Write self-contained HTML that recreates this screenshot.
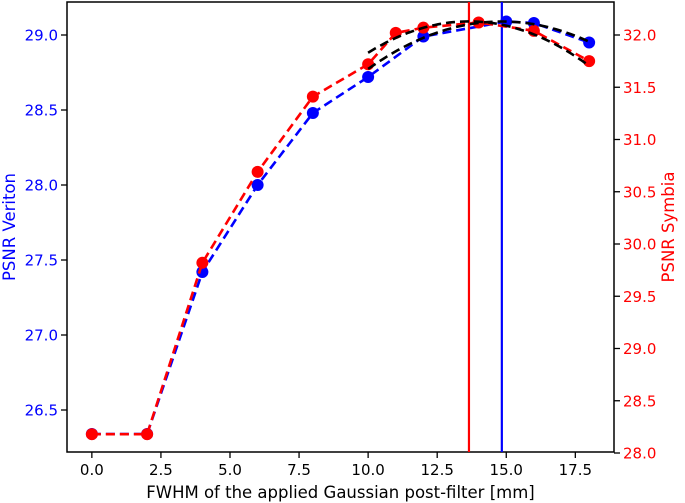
<!DOCTYPE html>
<html><head><meta charset="utf-8"><style>
body{margin:0;background:#fff}
svg{display:block;font-family:"DejaVu Sans","Liberation Sans",sans-serif}
</style></head><body>
<svg id="chart" width="685" height="503" viewBox="0 0 685 503"></svg>
<script>
const blueX = [0,2,4,6,8,10,12,15,16,18];
const blueY = [26.34,26.34,27.42,28.0,28.48,28.72,28.99,29.09,29.08,28.95];
const redX = [0,2,4,6,8,10,11,12,14,16,18];
const redY = [28.18,28.18,29.82,30.69,31.41,31.72,32.02,32.07,32.12,32.04,31.75];
const blueFit = [14.84, 29.09, -0.0135];
const redFit = [13.65, 32.13, -0.0225];
const fitRange = [10, 18];
const xTicks = [0,2.5,5,7.5,10,12.5,15,17.5];
const leftTicks = [26.5,27.0,27.5,28.0,28.5,29.0];
const rightTicks = [28.0,28.5,29.0,29.5,30.0,30.5,31.0,31.5,32.0];

const L=67,R=614,T=2,B=452;
const X=v=>L+(v+0.9)/19.8*(R-L);
const YL=v=>35+(29.0-v)*150;
const YR=v=>35+(32.0-v)*104.5;
const svg=document.getElementById('chart');
const NS='http://www.w3.org/2000/svg';
function mk(tag,attrs,parent){const e=document.createElementNS(NS,tag);for(const k in attrs)e.setAttribute(k,attrs[k]);(parent||svg).appendChild(e);return e;}

let box=mk('rect',{x:L,y:T,width:R-L,height:B-T,fill:'none',stroke:'#000','stroke-width':1.5});



xTicks.forEach(t=>{const x=X(t);
 mk('line',{x1:x,x2:x,y1:B,y2:B+6,stroke:'#000','stroke-width':1.3});
 const tx=mk('text',{x:x,y:B+23,'text-anchor':'middle','font-size':15,fill:'#000'});tx.textContent=t.toFixed(1);
 
 
});
leftTicks.forEach(t=>{const y=YL(t);
 mk('line',{x1:L-6,x2:L,y1:y,y2:y,stroke:'#000','stroke-width':1.3});
 const tx=mk('text',{x:L-9,y:y+5.5,'text-anchor':'end','font-size':15,fill:'#0000ff'});tx.textContent=t.toFixed(1);
 
 
});
rightTicks.forEach(t=>{const y=YR(t);
 mk('line',{x1:R,x2:R+6,y1:y,y2:y,stroke:'#000','stroke-width':1.3});
 const tx=mk('text',{x:R+9,y:y+5.5,'font-size':15,fill:'#ff0000'});tx.textContent=t.toFixed(1);
 
 
});

let xl=mk('text',{x:(L+R)/2,y:498,'text-anchor':'middle','font-size':16.5});xl.textContent='FWHM of the applied Gaussian post-filter [mm]';


let yl=mk('text',{x:0,y:0,'text-anchor':'middle','font-size':16.5,fill:'#0000ff',transform:'translate(15,227) rotate(-90)'});yl.textContent='PSNR Veriton';


let yr=mk('text',{x:0,y:0,'text-anchor':'middle','font-size':16.5,fill:'#ff0000',transform:'translate(674,227) rotate(-90)'});yr.textContent='PSNR Symbia';



function fitPath(f,Y){let d='';for(let i=0;i<=60;i++){const x=fitRange[0]+(fitRange[1]-fitRange[0])*i/60;const y=f[1]+f[2]*(x-f[0])*(x-f[0]);d+=(i?'L':'M')+X(x).toFixed(1)+','+Y(y).toFixed(1);}return d;}
function series(xa,ya,Y,col,name){
 const p=mk('polyline',{points:xa.map((x,i)=>X(x)+','+Y(ya[i])).join(' '),fill:'none',stroke:col,'stroke-width':2.6,'stroke-dasharray':'9,5'});
 
 
 xa.forEach((x,i)=>{const c=mk('circle',{cx:X(x),cy:Y(ya[i]),r:6,fill:col});
  
  });
}
series(blueX,blueY,YL,'#0000ff','veriton');
let vb=mk('line',{x1:X(blueFit[0]),x2:X(blueFit[0]),y1:T,y2:B,stroke:'#0000ff','stroke-width':2.2});


series(redX,redY,YR,'#ff0000','symbia');
let vr=mk('line',{x1:X(redFit[0]),x2:X(redFit[0]),y1:T,y2:B,stroke:'#ff0000','stroke-width':2.2});


let f1=mk('path',{d:fitPath(blueFit,YL),fill:'none',stroke:'#000','stroke-width':2.6,'stroke-dasharray':'9,5'});


let f2=mk('path',{d:fitPath(redFit,YR),fill:'none',stroke:'#000','stroke-width':2.6,'stroke-dasharray':'9,5'});


</script>
</body></html>
